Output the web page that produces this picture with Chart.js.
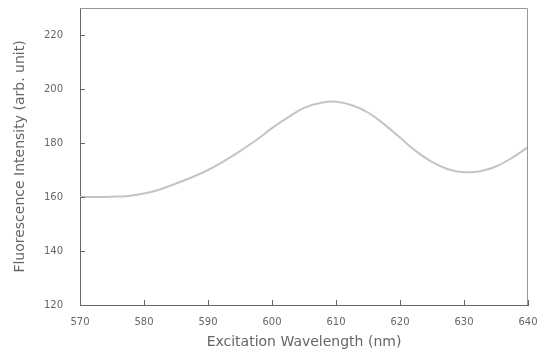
<!DOCTYPE html>
<html>
<head>
<meta charset="utf-8">
<script src="https://cdn.jsdelivr.net/npm/chart.js@4.4.1/dist/chart.umd.min.js"></script>
<style>
  html, body { margin: 0; padding: 0; background: #fff; }
  #wrap { width: 544px; height: 354px; }
</style>
</head>
<body>
<div id="wrap"><canvas id="c" width="544" height="354"></canvas></div>
<script>
// Excitation spectrum
const wavelengths = [570, 572.5, 575, 577.5, 580, 582.5, 585, 587.5, 590, 592.5, 595, 597.5, 600,
  602.5, 605, 607.5, 610, 612.5, 615, 617.5, 620, 622.5, 625, 627.5, 630, 632.5, 635, 637.5, 640];
const intensity = [160, 160, 160.1, 160.4, 161.3, 162.8, 165, 167.3, 170, 173.3, 177, 181, 185.5,
  189.5, 193, 194.8, 195.3, 194, 191.3, 187, 182, 177, 173, 170.3, 169.2, 169.5, 171.3, 174.5, 178.5];
const xTicks = [570, 580, 590, 600, 610, 620, 630, 640];
const yTicks = [120, 140, 160, 180, 200, 220];

const textColor = '#666';
const axisColor = '#666';

// box round the plot and inward tick marks
const frame = {
  id: 'frame',
  afterDraw(chart) {
    const { ctx, chartArea: a, scales } = chart;
    ctx.save();
    ctx.strokeStyle = '#999';
    ctx.lineWidth = 1;
    ctx.beginPath();
    ctx.moveTo(a.left, a.top + 0.5);
    ctx.lineTo(a.right - 0.5, a.top + 0.5);
    ctx.lineTo(a.right - 0.5, a.bottom);
    ctx.stroke();
    ctx.strokeStyle = axisColor;
    ctx.beginPath();
    xTicks.forEach(v => {
      const px = Math.round(scales.x.getPixelForValue(v)) + 0.5;
      ctx.moveTo(px, a.bottom);
      ctx.lineTo(px, a.bottom - 5);
    });
    yTicks.forEach(v => {
      const py = Math.round(scales.y.getPixelForValue(v)) + 0.5;
      ctx.moveTo(a.left, py);
      ctx.lineTo(a.left + 5, py);
    });
    ctx.stroke();
    ctx.restore();
  }
};

new Chart(document.getElementById('c'), {
  type: 'line',
  data: {
    datasets: [{
      data: wavelengths.map((w, i) => ({ x: w, y: intensity[i] })),
      borderColor: '#c4c4c4',
      borderWidth: 2,
      pointRadius: 0,
      tension: 0.4,
      fill: false
    }]
  },
  options: {
    responsive: false,
    animation: false,
    layout: { padding: { top: 8, right: 16, left: 0, bottom: 0 } },
    plugins: { legend: { display: false }, tooltip: { enabled: false } },
    scales: {
      x: {
        type: 'linear',
        min: 570,
        max: 640,
        afterFit(s) { s.height = 49; s.paddingLeft = 0; s.paddingRight = 0; },
        afterBuildTicks(s) { s.ticks = xTicks.map(v => ({ value: v })); },
        grid: { display: false },
        border: { display: true, color: axisColor, width: 1 },
        ticks: { color: textColor, padding: 3, maxRotation: 0, font: { family: 'DejaVu Sans', size: 10 } },
        title: {
          display: true,
          text: 'Excitation Wavelength (nm)',
          color: textColor,
          padding: { top: 4, bottom: 3 },
          font: { family: 'DejaVu Sans', size: 14 }
        }
      },
      y: {
        min: 120,
        max: 230,
        afterFit(s) { s.width = 80; s.paddingTop = 0; s.paddingBottom = 0; },
        afterBuildTicks(s) { s.ticks = yTicks.map(v => ({ value: v })); },
        grid: { display: false },
        border: { display: true, color: axisColor, width: 1 },
        ticks: { color: textColor, padding: 9, font: { family: 'DejaVu Sans', size: 10 } },
        title: {
          display: true,
          text: 'Fluorescence Intensity (arb. unit)',
          color: textColor,
          padding: { top: 12, bottom: 0 },
          font: { family: 'DejaVu Sans', size: 14 }
        }
      }
    }
  },
  plugins: [frame]
});
</script>
</body>
</html>
